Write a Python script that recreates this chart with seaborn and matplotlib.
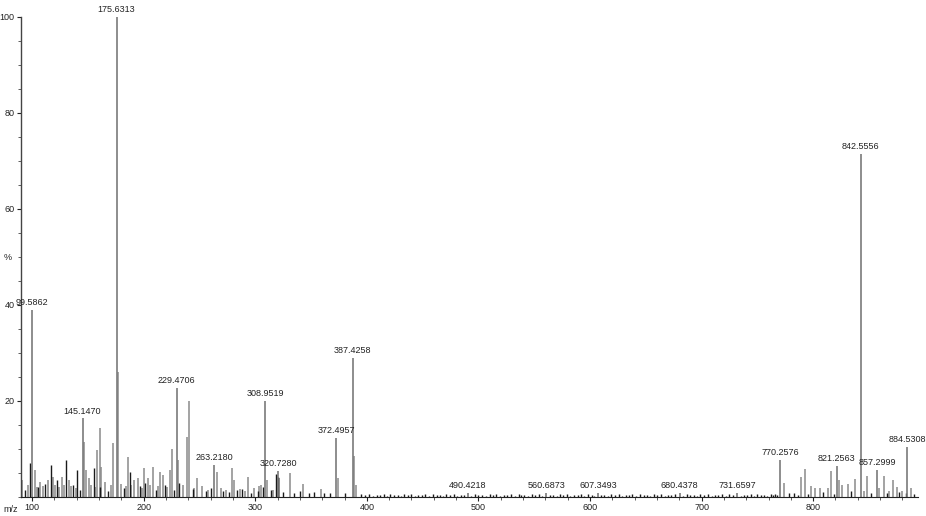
import matplotlib
matplotlib.use("Agg")
import matplotlib.pyplot as plt
from matplotlib.ticker import MultipleLocator
import seaborn as sns

# labelled peaks (m/z, relative intensity %)
label_mz = [99.5862, 145.1470, 175.6313, 229.4706, 263.2180, 308.9519, 320.7280,
            372.4957, 387.4258, 490.4218, 560.6873, 607.3493, 680.4378, 731.6597,
            770.2576, 821.2563, 842.5556, 857.2999, 884.5308]
label_int = [39.0, 16.4, 100.0, 22.7, 6.7, 20.0, 5.5,
             12.3, 29.0, 0.9, 0.8, 0.9, 0.8, 0.8,
             7.7, 6.5, 71.5, 5.6, 10.4]
label_txt = ["99.5862", "145.1470", "175.6313", "229.4706", "263.2180", "308.9519",
             "320.7280", "372.4957", "387.4258", "490.4218", "560.6873", "607.3493",
             "680.4378", "731.6597", "770.2576", "821.2563", "842.5556", "857.2999",
             "884.5308"]

# other (unlabelled) peaks, grey
peak_mz = [90.8, 96.0, 102.7, 104.0, 107.0, 109.5, 114.6, 119.0, 120.5, 124.0,
           126.6, 128.5, 132.6, 134.5, 139.0, 146.5, 148.5, 151.0, 153.0, 156.5,
           158.0, 161.0, 162.0, 165.5, 170.5, 172.8, 177.0, 180.0, 184.0, 186.3,
           189.0, 191.0, 195.0, 198.5, 200.5, 203.6, 206.0, 208.7, 212.5, 214.7,
           217.0, 221.0, 223.7, 225.2, 230.5, 235.0, 238.6, 241.0, 245.5, 248.0,
           252.0, 258.0, 266.0, 269.5, 274.0, 279.0, 280.5, 286.0, 291.0, 293.8,
           299.0, 303.0, 305.5, 310.5, 316.0, 319.6, 321.5, 331.2, 343.0, 359.0,
           374.0, 388.8, 390.5,
           774.1, 788.8, 792.6, 797.7, 801.6, 806.1, 813.6, 816.0, 823.0, 826.0,
           831.5, 837.5, 845.5, 848.5, 859.3, 863.7, 868.2, 871.8, 874.8, 879.3,
           887.6]
peak_int = [3.5, 2.5, 5.6, 2.0, 3.2, 2.2, 3.5, 4.2, 2.4, 2.0,
            4.2, 2.6, 3.5, 2.2, 1.8, 11.5, 5.6, 3.9, 2.4, 2.0,
            9.8, 14.3, 6.3, 3.2, 2.6, 11.2, 26.1, 2.8, 2.2, 8.4,
            2.4, 3.5, 3.9, 1.8, 6.0, 3.9, 2.5, 6.3, 2.2, 5.3,
            4.6, 2.0, 5.6, 10.1, 7.7, 2.5, 12.6, 20.0, 1.8, 3.9,
            2.2, 1.5, 5.3, 1.8, 1.4, 6.0, 3.5, 1.6, 1.2, 4.2,
            1.8, 2.2, 2.5, 3.5, 1.4, 4.5, 4.0, 5.1, 2.8, 1.6,
            3.9, 8.5, 2.5,
            3.0, 4.1, 5.8, 2.3, 1.8, 1.8, 1.8, 5.5, 3.5, 2.5,
            2.8, 3.7, 1.2, 4.4, 1.8, 4.4, 1.2, 3.5, 2.1, 1.2,
            1.9]

# dark low-level peaks / baseline noise
noise_mz = [93.5, 98.2, 105.0, 111.6, 116.7, 122.0, 130.2, 137.0, 140.0, 143.0,
            155.0, 160.5, 168.0, 182.0, 187.5, 197.0, 201.5, 211.0, 219.0, 227.0,
            232.0, 244.0, 256.0, 260.0, 271.0, 276.0, 284.0, 288.0, 296.0, 302.0,
            307.0, 314.0, 318.5, 320.0, 325.0, 335.0, 340.0, 348.0, 353.0, 362.0,
            367.0, 380.0, 395.0, 398.5, 402.0, 405.5, 409.0, 412.0, 415.0, 418.0,
            421.0, 424.5, 428.0, 430.5, 433.0, 436.5, 440.0, 443.0, 446.0, 449.0,
            452.0, 455.5, 459.0, 462.5, 466.0, 468.5, 471.0, 474.5, 478.0, 481.0,
            484.0, 487.0, 493.5, 497.0, 500.0, 503.0, 506.5, 510.0, 513.0, 516.0,
            519.5, 523.0, 526.0, 529.0, 532.5, 536.0, 538.5, 541.0, 544.5, 548.0,
            551.0, 554.0, 557.0, 564.0, 567.0, 570.0, 573.0, 576.0, 579.0, 582.5,
            586.0, 589.0, 592.0, 595.0, 598.0, 601.5, 604.0, 610.0, 613.0, 616.0,
            619.0, 622.5, 626.0, 629.0, 632.0, 635.0, 638.0, 641.5, 645.0, 648.0,
            651.0, 654.0, 657.0, 660.5, 664.0, 667.0, 670.0, 673.0, 676.0, 683.5,
            687.0, 690.0, 693.0, 696.0, 699.0, 702.5, 706.0, 709.0, 712.0, 715.0,
            718.0, 721.5, 725.0, 728.0, 735.0, 738.0, 741.0, 744.0, 747.0, 750.0,
            753.0, 756.0, 759.0, 762.0, 764.0, 766.0, 768.0, 778.0, 783.0, 786.0,
            795.0, 809.0, 819.0, 834.0, 852.0, 866.0, 877.0, 883.0, 890.0]
noise_int = [1.5, 7.0, 2.0, 2.8, 6.7, 3.5, 7.7, 2.5, 5.6, 1.5,
             6.0, 2.0, 1.2, 1.8, 5.3, 2.2, 3.0, 1.4, 2.6, 1.5,
             3.0, 1.6, 1.3, 1.8, 1.2, 1.0, 1.5, 1.7, 0.9, 1.3,
             2.0, 1.4, 4.8, 4.2, 1.0, 0.8, 1.2, 0.9, 1.1, 0.8,
             0.9, 0.8, 0.7, 0.4, 0.6, 0.3, 0.5, 0.4, 0.7, 0.3,
             0.6, 0.4, 0.5, 0.3, 0.7, 0.4, 0.6, 0.3, 0.5, 0.4,
             0.7, 0.3, 0.6, 0.4, 0.5, 0.3, 0.7, 0.4, 0.6, 0.3,
             0.5, 0.4, 0.3, 0.6, 0.4, 0.5, 0.3, 0.7, 0.4, 0.6,
             0.3, 0.5, 0.4, 0.7, 0.3, 0.6, 0.4, 0.5, 0.3, 0.7,
             0.4, 0.6, 0.3, 0.4, 0.5, 0.3, 0.7, 0.4, 0.6, 0.3,
             0.5, 0.4, 0.7, 0.3, 0.6, 0.4, 0.3, 0.4, 0.5, 0.3,
             0.7, 0.4, 0.6, 0.3, 0.5, 0.4, 0.7, 0.3, 0.6, 0.4,
             0.5, 0.3, 0.7, 0.4, 0.6, 0.3, 0.5, 0.4, 0.7, 0.3,
             0.6, 0.4, 0.5, 0.3, 0.7, 0.4, 0.6, 0.3, 0.5, 0.4,
             0.7, 0.3, 0.6, 0.4, 0.3, 0.5, 0.4, 0.7, 0.3, 0.6,
             0.4, 0.5, 0.3, 0.7, 0.4, 0.6, 0.5, 0.9, 0.8, 0.5,
             0.6, 1.0, 0.7, 1.2, 0.9, 0.8, 1.0, 0.8, 0.6]

x_ticks = [100, 200, 300, 400, 500, 600, 700, 800]
y_ticks = [20, 40, 60, 80, 100]

sns.set_style("ticks")
plt.rcParams['font.family'] = ['Liberation Sans', 'DejaVu Sans']

fig = plt.figure(figsize=(9.26, 5.16), dpi=100)
ax = fig.add_axes([21 / 926, 19 / 516, 897 / 926, 480 / 516])

ax.vlines(peak_mz, 0, peak_int, color="#8a8a8a", lw=1.1)
ax.vlines(noise_mz, 0, noise_int, color="#1a1a1a", lw=1.0)
ax.vlines(label_mz, 0, label_int, color="#7a7a7a", lw=1.2)

for mz, h, txt in zip(label_mz, label_int, label_txt):
    ax.annotate(txt, (mz, h), xytext=(0, 2), textcoords="offset points",
                ha="center", va="bottom", fontsize=6.5, color="#222222")

ax.set_xlim(90, 894)
ax.set_ylim(0, 100)
ax.set_xticks(x_ticks)
ax.set_xticklabels([str(v) for v in x_ticks])
ax.set_yticks(y_ticks)
ax.set_yticklabels([str(v) for v in y_ticks])
ax.xaxis.set_minor_locator(MultipleLocator(20))
ax.yaxis.set_minor_locator(MultipleLocator(5))
ax.tick_params(axis="both", which="major", labelsize=6.5, length=3, width=0.8,
               pad=1.5, colors="#222222")
ax.tick_params(axis="both", which="minor", length=2, width=0.6, colors="#444444")

sns.despine(ax=ax, top=True, right=True)
ax.spines["left"].set_color("#444444")
ax.spines["left"].set_linewidth(1.0)
ax.spines["bottom"].set_color("#222222")
ax.spines["bottom"].set_linewidth(0.8)

fig.text(8 / 926, 1 - 257 / 516, "%", fontsize=6.5, ha="center", va="center", color="#222222")
fig.text(3 / 926, 1 - 509 / 516, "m/z", fontsize=6.5, ha="left", va="center", color="#222222")

fig.savefig("out.png", dpi=100, facecolor="white")
